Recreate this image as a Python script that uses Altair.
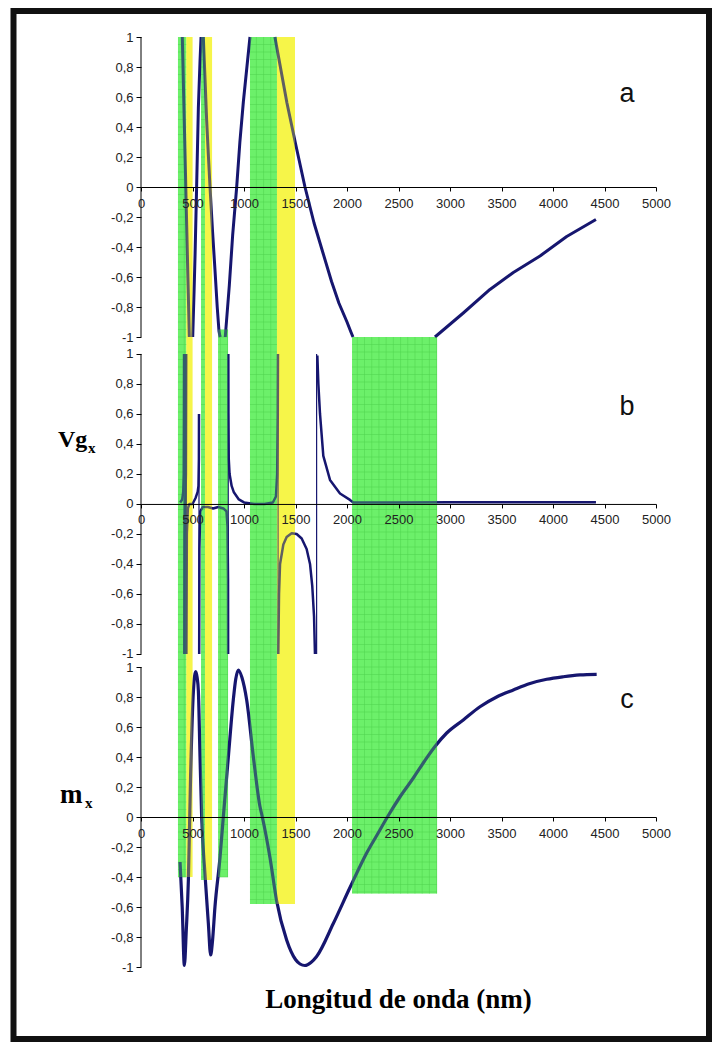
import altair as alt
import numpy as np
import pandas as pd

# ---------------- data ----------------
x_ticks = [0, 500, 1000, 1500, 2000, 2500, 3000, 3500, 4000, 4500, 5000]
y_ticks_local = [-1, -0.8, -0.6, -0.4, -0.2, 0, 0.2, 0.4, 0.6, 0.8, 1]

# panel a (Vg_x, first curve) – branches between the clipped ±1 stretches
a_seg = ["a1"] * 5 + ["a2"] * 7 + ["a3"] * 11 + ["a4"] * 7 + ["a5"] * 11 + ["a6"] * 7
a_nm = ([401, 418, 435, 452, 469] +
        [502, 515, 525, 540, 557, 573, 583] +
        [605, 620, 637, 655, 670, 695, 718, 740, 757, 765, 770] +
        [818, 857, 890, 929, 960, 994, 1058] +
        [1300, 1417, 1500, 1592, 1680, 1767, 1850, 1922, 2000, 2040, 2058] +
        [2854, 3129, 3388, 3615, 3874, 4133, 4417])
a_val = ([1.0, 0.5, 0.0, -0.5, -1.0] +
         [-1.0, -0.7, -0.45, 0.0, 0.53, 0.84, 1.0] +
         [1.0, 0.75, 0.45, 0.2, 0.0, -0.3, -0.55, -0.8, -0.96, -0.99, -1.0] +
         [-1.0, -0.66, -0.32, 0.0, 0.3, 0.57, 1.0] +
         [1.0, 0.56, 0.29, 0.0, -0.24, -0.44, -0.63, -0.775, -0.9, -0.97, -1.0] +
         [-1.0, -0.84, -0.683, -0.57, -0.46, -0.33, -0.217])

# panel b (Vg_x, second curve) – branches between asymptotes
b_seg = (["b1"] * 6 + ["b2"] * 5 + ["b3"] * 10 + ["b4"] * 12 + ["b5"] * 15 + ["b6"] * 13 + ["b7"] * 13)
b_nm = ([380, 400, 410, 415, 417, 418] +
        [421, 424, 430, 436, 439] +
        [441, 445, 455, 470, 500, 530, 550, 558, 562, 563] +
        [565, 567, 575, 600, 650, 700, 750, 800, 830, 840, 845, 846] +
        [848, 849, 852, 860, 880, 900, 950, 1000, 1100, 1200, 1280, 1310, 1322, 1328, 1330] +
        [1333, 1340, 1350, 1382, 1414, 1463, 1511, 1560, 1608, 1641, 1663, 1680, 1689] +
        [1712, 1722, 1738, 1770, 1835, 1932, 2029, 2061, 2500, 3000, 3500, 4000, 4417])
b_val = ([0.01, 0.03, 0.08, 0.2, 0.6, 1.0] +
         [-1.0, -0.2, 0.0, 0.2, 1.0] +
         [-1.0, -0.2, -0.03, 0.0, 0.0, 0.04, 0.08, 0.12, 0.3, 0.6] +
         [-1.0, -0.3, -0.05, -0.02, -0.02, -0.03, -0.02, -0.03, -0.05, -0.15, -0.5, -1.0] +
         [1.0, 0.6, 0.3, 0.2, 0.12, 0.08, 0.03, 0.01, 0.0, 0.0, 0.01, 0.05, 0.2, 0.6, 1.0] +
         [-1.0, -0.6, -0.4, -0.27, -0.22, -0.195, -0.2, -0.23, -0.3, -0.4, -0.55, -0.75, -1.0] +
         [0.99, 0.8, 0.6, 0.32, 0.16, 0.07, 0.027, 0.01, 0.01, 0.012, 0.012, 0.012, 0.012])

# asymptote lines in panel b
asym_nm = [418, 440, 563, 847, 1331, 1705]
asym_lo = [-1, -1, -1, -1, -1, -1]
asym_hi = [1, 1, 0.6, 1, 1, 1]

# panel c (m_x)
c_nm = [379, 400, 421, 440, 460, 482, 509, 531, 545, 557, 573, 589, 621, 654, 676, 695, 718, 767, 799,
        848, 896, 920, 945, 980, 1026, 1091, 1155, 1178, 1252, 1317, 1414, 1500, 1544, 1592, 1650, 1705,
        1867, 2029, 2191, 2300, 2401, 2520, 2644, 2750, 2854, 2968, 3129, 3291, 3453, 3615, 3777, 3939,
        4100, 4262, 4424]
c_val = [-0.3, -0.6, -0.99, -0.75, -0.42, 0.29, 0.84, 0.97, 0.93, 0.84, 0.4, 0.0, -0.38, -0.71, -0.92,
         -0.82, -0.6, -0.27, 0.0, 0.4, 0.78, 0.92, 0.98, 0.93, 0.78, 0.4, 0.07, 0.0, -0.27, -0.56, -0.82,
         -0.95, -0.98, -0.99, -0.97, -0.93, -0.71, -0.47, -0.24, -0.11, 0.01, 0.14, 0.26, 0.37, 0.47,
         0.56, 0.647, 0.735, 0.80, 0.847, 0.89, 0.918, 0.935, 0.947, 0.951]

# shaded wavelength bands (top given in panel a units, bottom in panel c units)
band_kind = ["green", "yellow", "green", "yellow", "green", "green", "yellow", "green"]
band_x0 = [359, 440, 583, 621, 748, 1058, 1320, 2049]
band_x1 = [440, 500, 621, 690, 845, 1320, 1495, 2874]
band_top_a = [1, 1, 1, 1, -0.95, 1, 1, -1]
band_bot_c = [-0.4, -0.4, -0.42, -0.42, -0.4, -0.58, -0.58, -0.51]

panel_names = ["a", "b", "c"]
panel_letters = ["a", "b", "c"]
letter_nm = [4718, 4718, 4718]
letter_local = [0.57, 0.59, 0.727]

# ---------------- layout helpers ----------------
offset = {"a": 4.2, "b": 2.087, "c": 0.0}
Y_MIN, Y_MAX = -1.0, 5.2
W, H = 515, 930
PX = H / (Y_MAX - Y_MIN)
navy = "#16166f"
green = "#6cf06a"
yellow = "#f7f54a"

xs = alt.Scale(domain=[0, 5000], nice=False, zero=False)
ys = alt.Scale(domain=[Y_MIN, Y_MAX], nice=False, zero=False)

da = pd.DataFrame({"nm": a_nm, "g": np.array(a_val) + offset["a"], "seg": a_seg})
db = pd.DataFrame({"nm": b_nm, "g": np.array(b_val) + offset["b"], "seg": b_seg})
dc = pd.DataFrame({"nm": c_nm, "g": np.array(c_val) + offset["c"]})
dasym = pd.DataFrame({"nm": asym_nm, "lo": np.array(asym_lo) + offset["b"],
                      "hi": np.array(asym_hi) + offset["b"]})
dbands = pd.DataFrame({"kind": band_kind, "x0": band_x0, "x1": band_x1,
                       "top": np.array(band_top_a) + offset["a"],
                       "bot": np.array(band_bot_c) + offset["c"]})

# grid pattern inside the green bands
grid_v, grid_h = [], []
for _, r in dbands[dbands.kind == "green"].iterrows():
    for gx in np.arange(0, 5000, 70):
        if r.x0 < gx < r.x1:
            grid_v.append({"nm": gx, "lo": r.bot, "hi": r.top})
    for gy in np.arange(-1.5, 5.3, 0.05):
        if r.bot < gy < r.top:
            grid_h.append({"x0": r.x0, "x1": r.x1, "gy": gy})
dgv = pd.DataFrame(grid_v)
dgh = pd.DataFrame(grid_h)

X = lambda f: alt.X(f, scale=xs, axis=None)
Y = lambda f: alt.Y(f, scale=ys, axis=None)

band_color = alt.Color("kind:N", scale=alt.Scale(domain=["green", "yellow"], range=[green, yellow]), legend=None)

bands = alt.Chart(dbands).mark_rect().encode(x=X("x0:Q"), x2="x1:Q", y=Y("bot:Q"), y2="top:Q", color=band_color)
bands_over = alt.Chart(dbands).mark_rect(opacity=0.33).encode(
    x=X("x0:Q"), x2="x1:Q", y=Y("bot:Q"), y2="top:Q", color=band_color)
gv = alt.Chart(dgv).mark_rule(color="#3fc43f", strokeWidth=0.7, opacity=0.7).encode(
    x=X("nm:Q"), y=Y("lo:Q"), y2="hi:Q")
gh = alt.Chart(dgh).mark_rule(color="#3fc43f", strokeWidth=0.7, opacity=0.7).encode(
    x=X("x0:Q"), x2="x1:Q", y=Y("gy:Q"))

line_a = alt.Chart(da).mark_line(color=navy, strokeWidth=3, strokeJoin="round").encode(
    x=X("nm:Q"), y=Y("g:Q"), detail="seg:N", order="nm:Q")
line_b = alt.Chart(db).mark_line(color=navy, strokeWidth=2.5, strokeJoin="round").encode(
    x=X("nm:Q"), y=Y("g:Q"), detail="seg:N", order="nm:Q")
asym = alt.Chart(dasym).mark_rule(color=navy, strokeWidth=1.2).encode(x=X("nm:Q"), y=Y("lo:Q"), y2="hi:Q")
line_c = alt.Chart(dc).mark_line(color=navy, strokeWidth=3.2, interpolate="monotone").encode(
    x=X("nm:Q"), y=Y("g:Q"), order="nm:Q")

# axes: one x axis per panel (at that panel's zero), y axis with all three panels' ticks
y_tick_vals = [round(offset[p] + t, 4) for p in panel_names for t in y_ticks_local]
lab_expr = (
    "replace(replace(format(datum.value > 3.15 ? datum.value - {a} : "
    "(datum.value > 1.045 ? datum.value - {b} : datum.value), '.1~f'), '.', ','), '\u2212', '-')"
).format(a=offset["a"], b=offset["b"])

axis_layers = []
for p in panel_names:
    off = offset[p]
    dp = pd.DataFrame({"nm": [0], "lo": [off - 1], "hi": [off + 1]})
    xaxis = alt.Axis(orient="bottom", offset=-(off - Y_MIN) * PX, values=x_ticks, format="d",
                     title=None, grid=False, tickSize=4, tickColor="black", domainColor="black",
                     labelFont="Liberation Sans", labelFontSize=13, labelColor="#222",
                     labelPadding=6, labelOverlap=False, labelFlush=False, zindex=2)
    yaxis = None
    if p == "c":
        yaxis = alt.Axis(orient="left", values=y_tick_vals, labelExpr=lab_expr, title=None, grid=False,
                         domain=False, tickSize=5, tickColor="black", labelFont="Liberation Sans",
                         labelFontSize=13, labelColor="#222", labelPadding=3, labelOverlap=False,
                         labelBound=False, zindex=2)
    axis_layers.append(
        alt.Chart(dp).mark_rule(color="black", strokeWidth=1).encode(
            x=alt.X("nm:Q", scale=xs, axis=xaxis),
            y=alt.Y("lo:Q", scale=ys, axis=yaxis), y2="hi:Q"))

# text annotations
dletters = pd.DataFrame({"t": panel_letters, "nm": letter_nm,
                         "g": [letter_local[i] + offset[p] for i, p in enumerate(panel_names)]})
letters = alt.Chart(dletters).mark_text(font="Liberation Sans", fontSize=27, align="center",
                                        baseline="alphabetic", color="#111").encode(
    x=X("nm:Q"), y=Y("g:Q"), text="t:N")

lab_main = pd.DataFrame({"t": ["Vg", "m"], "nm": [-806, -786], "g": [2.467, 0.093], "fs": [24, 27]})
lab_sub = pd.DataFrame({"t": ["x", "x"], "nm": [-515, -544], "g": [2.43, 0.06]})
ylab_main = alt.Chart(lab_main).mark_text(font="Liberation Serif", fontWeight="bold", align="left",
                                          baseline="alphabetic", color="black").encode(
    x=X("nm:Q"), y=Y("g:Q"), text="t:N", size=alt.Size("fs:Q", scale=None, legend=None))
ylab_sub = alt.Chart(lab_sub).mark_text(font="Liberation Serif", fontWeight="bold", fontSize=15,
                                        align="left", baseline="alphabetic", color="black").encode(
    x=X("nm:Q"), y=Y("g:Q"), text="t:N")

xtitle = alt.Chart(pd.DataFrame({"t": ["Longitud de onda (nm)"], "nm": [2500], "g": [-1.273]})).mark_text(
    font="Liberation Serif", fontWeight="bold", fontSize=27, align="center", baseline="alphabetic",
    color="black").encode(x=X("nm:Q"), y=Y("g:Q"), text="t:N")

frame = alt.Chart(pd.DataFrame({"k": [0]})).mark_rect(filled=False, stroke="#111", strokeWidth=6).encode(
    x=alt.value(-127.5), x2=alt.value(568), y=alt.value(-26), y2=alt.value(1002))

chart = alt.layer(
    bands, gv, gh, line_a, line_b, asym, line_c, bands_over,
    *axis_layers, letters, ylab_main, ylab_sub, xtitle, frame
).resolve_axis(x="independent", y="independent").properties(
    width=W, height=H, autosize=alt.AutoSizeParams(type="none"),
    padding={"left": 133, "top": 29, "right": 56, "bottom": 75},
    background="white"
).configure_view(stroke=None)

chart.save("out.html", embed_options={"renderer": "svg", "actions": False})
